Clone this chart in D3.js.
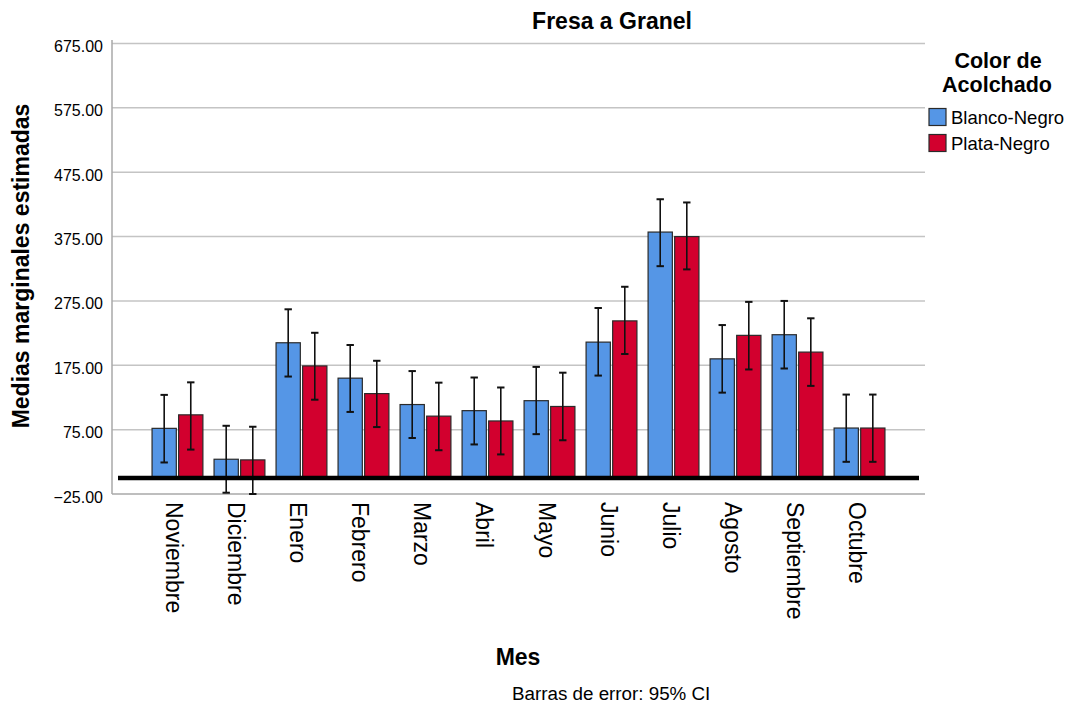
<!DOCTYPE html>
<html><head><meta charset="utf-8">
<script src="https://cdn.jsdelivr.net/npm/d3@7"></script>
<style>
html,body{margin:0;padding:0;background:#fff;}
svg text{font-family:"Liberation Sans",Arial,sans-serif;fill:#000;}
</style></head>
<body>
<svg id="chart" width="1070" height="713"></svg>
<script>
const months = ["Noviembre","Diciembre","Enero","Febrero","Marzo","Abril","Mayo","Junio","Julio","Agosto","Septiembre","Octubre"];
const seriesNames = ["Blanco-Negro","Plata-Negro"];
const blancoMean = [77, 29, 210, 155, 114, 104.5, 120, 211, 382, 185, 222.5, 77.5];
const plataMean  = [98, 28, 174, 131, 96, 88.5, 111, 244, 375, 221.5, 195.5, 77.5];
const blancoLow  = [24, -23, 157.5, 102.5, 62, 52, 68, 159, 329, 132.5, 170, 25];
const blancoHigh = [129, 81, 262, 206.5, 166, 156, 172.5, 264, 433, 237.5, 275, 129.5];
const plataLow   = [44, -25, 121.5, 79, 43, 36.5, 58.5, 192.5, 324, 168.5, 143, 25];
const plataHigh  = [148.5, 79.5, 225.5, 182, 148, 140.5, 163.5, 297, 428, 273.5, 248, 129.5];
const yTicks = [-25, 75, 175, 275, 375, 475, 575, 675];

(function(){
const colors = {"Blanco-Negro":"#5596e6","Plata-Negro":"#d2002e"};
const svg = d3.select("#chart");

const pL = 112, pR = 925, pT = 43.5, pB = 494;
const y = d3.scaleLinear().domain([-25, 675]).range([pB, pT]);
const x = d3.scaleBand().domain(months).range([pL, pR]).paddingInner(0.18).paddingOuter(0.646);
const xs = d3.scaleBand().domain(seriesNames).range([0, x.bandwidth()]).paddingInner(0.087);

// gridlines
svg.append("g").selectAll("line").data(yTicks.filter(t => t > -25)).join("line")
  .attr("x1", pL).attr("x2", pR).attr("y1", d => y(d)).attr("y2", d => y(d))
  .attr("stroke", "#c4c4c4").attr("stroke-width", 1.5);

// y axis
const yAxis = d3.axisLeft(y).tickValues(yTicks).tickFormat(d3.format(".2f")).tickSize(0).tickPadding(9);
const ga = svg.append("g").attr("transform", `translate(${pL},0)`).call(yAxis);
ga.select(".domain").remove();
ga.selectAll("text").style("font-size", "16px").attr("fill", "#000").attr("dy", "0.5em");
svg.append("line").attr("x1", pL).attr("x2", pL).attr("y1", 40).attr("y2", pB)
  .attr("stroke", "#a8a8a8").attr("stroke-width", 1.5);
svg.append("line").attr("x1", pL).attr("x2", pR).attr("y1", pB).attr("y2", pB)
  .attr("stroke", "#a8a8a8").attr("stroke-width", 1.5);

// data rows
const rows = months.map((m, i) => ({
  month: m,
  vals: [
    {s: seriesNames[0], v: blancoMean[i], lo: blancoLow[i], hi: blancoHigh[i]},
    {s: seriesNames[1], v: plataMean[i], lo: plataLow[i], hi: plataHigh[i]}
  ]
}));

const groups = svg.append("g").selectAll("g").data(rows).join("g")
  .attr("transform", d => `translate(${x(d.month)},0)`);

groups.selectAll("rect").data(d => d.vals).join("rect")
  .attr("x", d => xs(d.s)).attr("width", xs.bandwidth())
  .attr("y", d => y(Math.max(0, d.v))).attr("height", d => Math.abs(y(d.v) - y(0)))
  .attr("fill", d => colors[d.s]).attr("stroke", "#2a2a2a").attr("stroke-width", 1.2);

// zero line
svg.append("line").attr("x1", pL + 6).attr("x2", pR - 6).attr("y1", y(0)).attr("y2", y(0))
  .attr("stroke", "#000").attr("stroke-width", 4.5);

// error bars
const eb = groups.selectAll("g.eb").data(d => d.vals).join("g").attr("class", "eb");
const cx = d => xs(d.s) + xs.bandwidth() / 2;
eb.append("line").attr("x1", cx).attr("x2", cx).attr("y1", d => y(d.lo)).attr("y2", d => y(d.hi))
  .attr("stroke", "#111").attr("stroke-width", 1.6);
eb.append("line").attr("x1", d => cx(d) - 3.7).attr("x2", d => cx(d) + 3.7).attr("y1", d => y(d.hi)).attr("y2", d => y(d.hi))
  .attr("stroke", "#111").attr("stroke-width", 2);
eb.append("line").attr("x1", d => cx(d) - 3.7).attr("x2", d => cx(d) + 3.7).attr("y1", d => y(d.lo)).attr("y2", d => y(d.lo))
  .attr("stroke", "#111").attr("stroke-width", 2);

// x labels
svg.append("g").selectAll("text").data(months).join("text")
  .attr("transform", d => `translate(${x(d) + x.bandwidth() / 2 - 11},502) rotate(90)`)
  .attr("text-anchor", "start").style("font-size", "23px").text(d => d);

// titles
svg.append("text").attr("x", 612).attr("y", 29).attr("text-anchor", "middle")
  .style("font-size", "23px").style("font-weight", "bold").text("Fresa a Granel");
svg.append("text").attr("transform", "translate(29,266) rotate(-90)").attr("text-anchor", "middle")
  .style("font-size", "23px").style("font-weight", "bold").text("Medias marginales estimadas");
svg.append("text").attr("x", 518).attr("y", 665).attr("text-anchor", "middle")
  .style("font-size", "23px").style("font-weight", "bold").text("Mes");
svg.append("text").attr("x", 512).attr("y", 700).attr("text-anchor", "start")
  .style("font-size", "18.8px").text("Barras de error: 95% CI");

// legend
const lg = svg.append("g");
lg.append("text").attr("x", 998).attr("y", 67.5).attr("text-anchor", "middle")
  .style("font-size", "21.5px").style("font-weight", "bold").text("Color de");
lg.append("text").attr("x", 997).attr("y", 91.5).attr("text-anchor", "middle")
  .style("font-size", "21.5px").style("font-weight", "bold").text("Acolchado");
const items = lg.selectAll("g.item").data(seriesNames).join("g").attr("class", "item")
  .attr("transform", (d, i) => `translate(929,${108.5 + i * 26})`);
items.append("rect").attr("width", 17).attr("height", 17)
  .attr("fill", d => colors[d]).attr("stroke", "#2a2a2a").attr("stroke-width", 1.2);
items.append("text").attr("x", 22).attr("y", 15).style("font-size", "18.5px").text(d => d);
})();
</script>
</body></html>
